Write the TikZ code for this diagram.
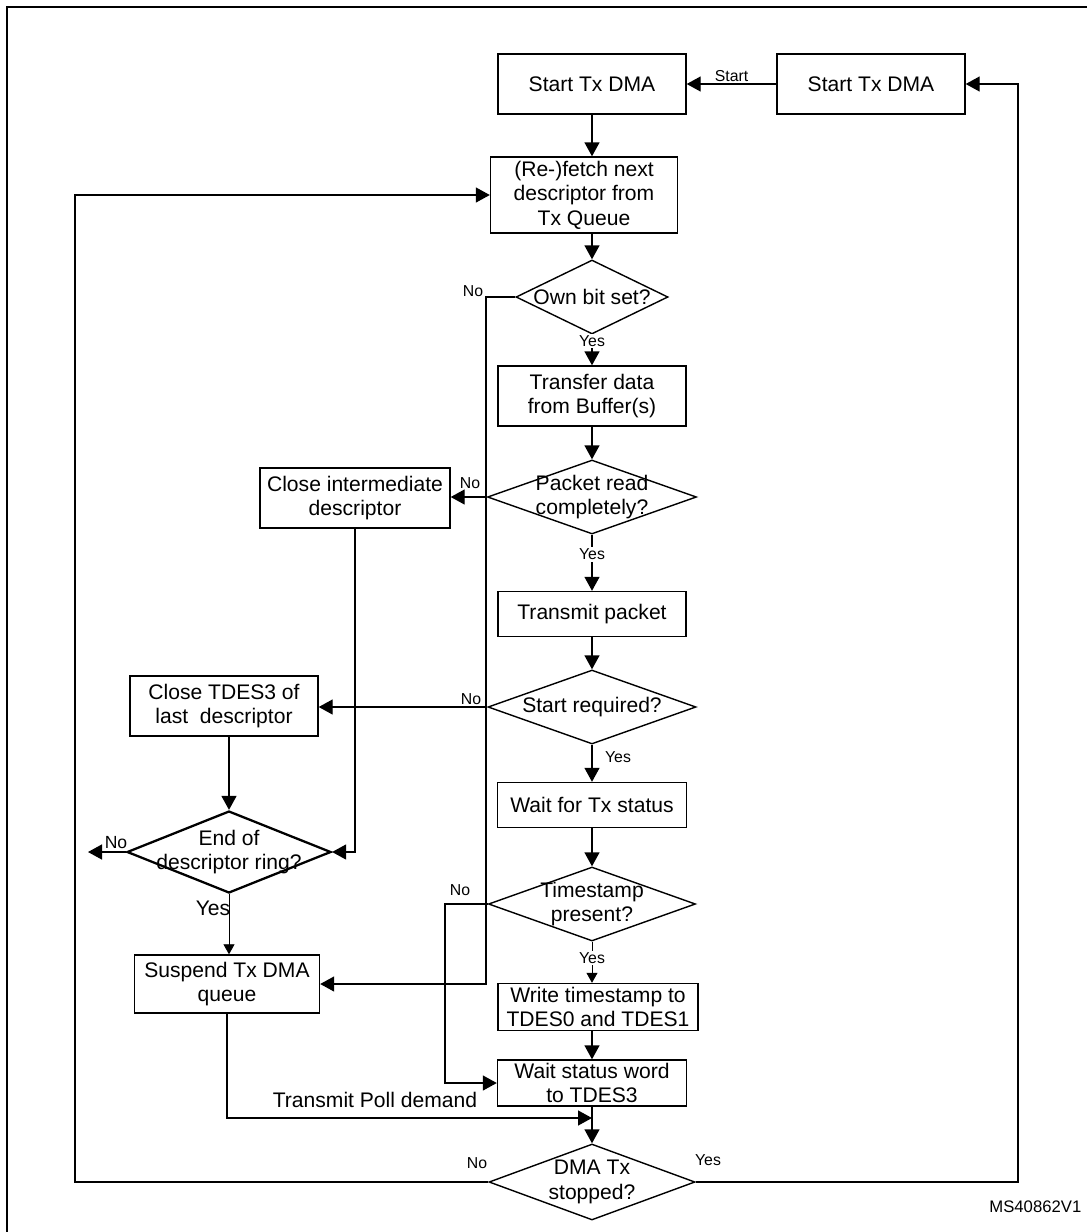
\documentclass[tikz,border=0pt]{standalone}
\usepackage{fontspec}
\setmainfont{Liberation Sans}
\usetikzlibrary{shapes.geometric,arrows.meta}

\begin{document}
\begin{tikzpicture}[x=0.2mm,y=-0.2mm,line width=0.8pt,
	>={Triangle[length=2.8mm,width=3mm]},
	box/.style={draw,inner sep=0pt,align=center,minimum width=37.6mm,minimum height=12mm,font=\fontsize{12}{14}\selectfont},
	dec/.style={draw,diamond,inner sep=0pt,minimum width=41.4mm,minimum height=14.8mm,
		label={[align=center,font=\fontsize{12}{14}\selectfont]center:#1}},
	lbl/.style={inner sep=1pt,font=\fontsize{9}{10}\selectfont},
	thin arrow/.style={line width=0.5pt,-{Triangle[length=2mm,width=2.2mm]}}]
\useasboundingbox (0,0) rectangle (1087,1232);
\draw[line width=1.1pt] (1087,7) -- (7,7) -- (7,1232);
\path (592,84) node[box] (startA) {Start Tx DMA}
		(871,84) node[box] (startB) {Start Tx DMA}
		(584,195) node[box,minimum width=37.4mm,minimum height=15.2mm] (fetch) {(Re-)fetch next\\descriptor from\\Tx Queue}
		(592,297) node[dec={Own bit set?},minimum width=30.4mm] (own) {}
		(592,396) node[box] (xfer) {Transfer data\\from Buffer(s)}
		(592,497) node[dec={Packet read\\completely?},minimum width=41.8mm] (pkt) {}
		(355,498) node[box,minimum width=38mm] (closeI) {Close intermediate\\descriptor}
		(592,614) node[box,minimum height=9mm] (xmit) {Transmit packet}
		(592,707) node[dec={Start required?},minimum width=41.6mm] (startReq) {}
		(224,706) node[box] (closeT) {Close TDES3 of\\last~ descriptor}
		(592,805) node[box,minimum width=37.8mm,minimum height=9mm] (waitTx) {Wait for Tx status}
		(592,904) node[dec={Timestamp\\present?}] (tsp) {}
		(229,852) node[dec={End of\\descriptor ring?},minimum width=40.8mm,minimum height=16.4mm,line width=1.3pt] (ring) {}
		(227,984) node[box,minimum width=37mm,minimum height=11.6mm] (susp) {Suspend Tx DMA\\queue}
		(598,1007) node[box,minimum width=40mm,minimum height=9.4mm] (wts) {Write timestamp to\\TDES0 and TDES1}
		(592,1083) node[box,minimum width=37.8mm,minimum height=9.2mm] (wsw) {Wait status word\\to TDES3}
		(592,1182) node[dec={DMA Tx\\stopped?},minimum width=41.2mm,minimum height=15.2mm] (dma) {}
		(473,291) node[lbl] (nOwn) {No}
		(470,483) node[lbl] (nPkt) {No}
		(471,699) node[lbl] (nReq) {No}
		(618,757) node[lbl] (yReq) {Yes}
		(460,890) node[lbl] (nTsp) {No}
		(116,843) node[lbl,font=\fontsize{10}{11}\selectfont] (nRing) {No}
		(213,908) node[lbl,font=\fontsize{12}{14}\selectfont] (yRing) {Yes}
		(375,1100) node[font=\fontsize{12}{14}\selectfont] (poll) {Transmit Poll demand}
		(477,1163) node[lbl] (nDma) {No}
		(708,1160) node[lbl] (yDma) {Yes}
		(1082,1207) node[anchor=east,inner sep=0pt,font=\fontsize{9.5}{11}\selectfont] (tag) {MS40862V1};
\coordinate (noOwn) at (486,297);
\coordinate (noTsp) at (445,904);
\coordinate (noRing) at (88,852);
\coordinate (pollEnd) at (592,1118);
\coordinate (lft) at (75,600);
\coordinate (rgt) at (1018,600);
\draw[->] (startB.west) -- node[lbl,above] (lStart) {Start} (startA.east);
\draw[->] (startA.south) -- (startA.south |- fetch.north);
\draw[->] (own.north |- fetch.south) -- (own.north);
\draw[->] (own.south) -- node[lbl,fill=white,pos=0.2] (yOwn) {Yes} (xfer.north);
\draw[->] (xfer.south) -- (pkt.north);
\draw[->] (pkt.west) -- (pkt.west -| closeI.east);
\draw[->] (pkt.south) -- node[lbl,fill=white,pos=0.35] (yPkt) {Yes} (xmit.north);
\draw[->] (xmit.south) -- (startReq.north);
\draw[->] (startReq.west) -- (startReq.west -| closeT.east);
\draw[->] (startReq.south) -- (waitTx.north);
\draw[->] (waitTx.south) -- (tsp.north);
\draw[thin arrow] (tsp.south) -- node[lbl,fill=white,pos=0.4] (yTsp) {Yes} (tsp.south |- wts.north);
\draw[->] (wts.south -| wsw.north) -- (wsw.north);
\draw[->] (wsw.south) -- (dma.north);
\draw[->] (own.west) -- (noOwn) |- (susp.east);
\draw[->] (closeI.south) |- (ring.east);
\draw[->] (ring.north |- closeT.south) -- (ring.north);
\draw[->] (ring.west) -- (noRing);
\draw[thin arrow] (ring.south) -- (ring.south |- susp.north);
\draw[->] (tsp.west) -- (noTsp) |- (wsw.west);
\draw[->] (susp.south) |- (pollEnd);
\draw[->] (dma.west) -| (lft) |- (fetch.west);
\draw[->] (dma.east) -| (rgt) |- (startB.east);
\end{tikzpicture}
\end{document}
